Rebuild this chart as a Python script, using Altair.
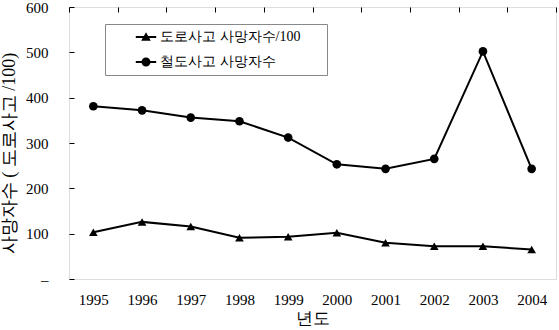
import altair as alt
import pandas as pd

years = ["1995", "1996", "1997", "1998", "1999", "2000", "2001", "2002", "2003", "2004"]
road_per100 = [103, 126, 116, 91, 93, 102, 80, 72, 72, 65]
rail_deaths = [381, 372, 356, 348, 312, 253, 243, 265, 502, 243]
series_names = ["도로사고 사망자수/100", "철도사고 사망자수"]
y_ticks = [0, 100, 200, 300, 400, 500, 600]

df = pd.DataFrame({
    "year": years * 2,
    "value": road_per100 + rail_deaths,
    "series": [series_names[0]] * len(years) + [series_names[1]] * len(years),
})

FONT = "Liberation Serif"

x_enc = alt.X(
    "year:N",
    bandPosition=0.5,
    scale=alt.Scale(type="band", paddingInner=0, paddingOuter=0),
    axis=alt.Axis(
        title="년도", labelAngle=0, ticks=False, domain=False,
        tickBand="extent", grid=True, gridColor="black", gridWidth=1,
        gridDash=[5, 1000], labelFont=FONT, labelFontSize=15, labelPadding=13,
        titleFont=FONT, titleFontSize=17, titleFontWeight="normal",
        titleY=39, titleBaseline="middle",
        labelColor="black", titleColor="black",
    ),
)
y_enc = alt.Y(
    "value:Q",
    scale=alt.Scale(domain=[0, 600]),
    axis=alt.Axis(
        title="사망자수  (  도로사고  /100)", values=y_ticks, ticks=False, domain=False,
        grid=True, gridColor="black", gridWidth=1, gridDash=[5, 1000],
        labelExpr="datum.value == 0 ? '–' : datum.label",
        labelFont=FONT, labelFontSize=15, labelPadding=21,
        titleFont=FONT, titleFontSize=18, titleFontWeight="normal",
        titleX=-60, titleY=146, titleAngle=270, titleBaseline="middle", titleAlign="center",
        labelColor="black", titleColor="black",
    ),
)

lines = alt.Chart(df).mark_line(color="black", strokeWidth=2).encode(
    x=x_enc, y=y_enc, detail="series:N"
)

points = alt.Chart(df).mark_point(filled=True, color="black", opacity=1, size=75).encode(
    x=x_enc, y=y_enc,
    shape=alt.Shape("series:N", scale=alt.Scale(domain=series_names, range=["triangle-up", "circle"]), legend=None),
)

# legend symbols: a short line with the marker on it (unit path scaled by sqrt(size)/2)
tri_path = "M-1.7,-0.15 L1.7,-0.15 L1.7,0.15 L-1.7,0.15 Z M0,-0.8 L0.8,0.62 L-0.8,0.62 Z"
circ_path = "M-1.7,-0.15 L1.7,-0.15 L1.7,0.15 L-1.7,0.15 Z M0.75,0 A0.75,0.75 0 1,1 -0.75,0 A0.75,0.75 0 1,1 0.75,0 Z"

legend_layer = alt.Chart(df).mark_point(filled=True, opacity=0, color="black").encode(
    x=x_enc, y=y_enc,
    shape=alt.Shape(
        "series:N",
        scale=alt.Scale(domain=series_names, range=[tri_path, circ_path]),
        legend=alt.Legend(
            title=None, orient="none", legendX=36, legendY=17,
            strokeColor="#888888", fillColor="white", padding=6,
            symbolSize=144, symbolOffset=28,
            symbolOpacity=1, symbolStrokeWidth=0,
            symbolFillColor="black", symbolStrokeColor="black",
            labelFont=FONT, labelFontSize=14, labelColor="black",
            labelOffset=7, rowPadding=11, labelLimit=400,
            labelExpr="datum.label + '\u2800\u2800'",
        ),
    ),
)

chart = alt.layer(lines, points, legend_layer).resolve_scale(shape="independent").properties(
    width=487, height=272,
    autosize=alt.AutoSizeParams(type="none"),
    padding={"left": 69, "top": 7, "right": 3, "bottom": 51},
).configure_view(stroke="black", strokeWidth=2).configure(background="white")

chart.save("out.html", embed_options={"renderer": "svg", "actions": False})
